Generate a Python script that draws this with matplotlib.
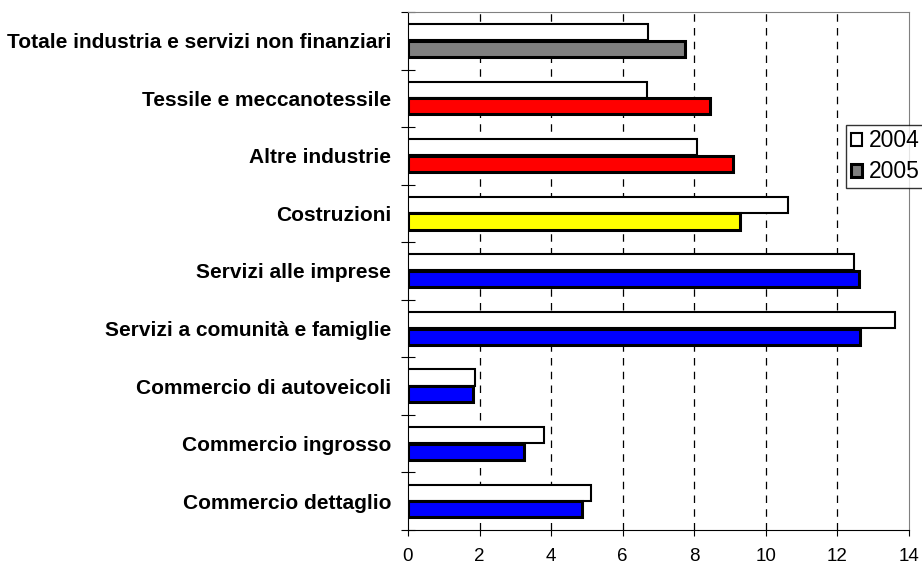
import matplotlib.pyplot as plt
import numpy as np
from matplotlib.patches import Patch

plt.rcParams['font.family'] = ['Liberation Sans', 'DejaVu Sans']

# Data (top to bottom)
categories = ['Totale industria e servizi non finanziari', 'Tessile e meccanotessile',
              'Altre industrie', 'Costruzioni', 'Servizi alle imprese',
              'Servizi a comunità e famiglie', 'Commercio di autoveicoli',
              'Commercio ingrosso', 'Commercio dettaglio']
values_2004 = [6.72, 6.69, 8.09, 10.63, 12.46, 13.62, 1.88, 3.81, 5.11]
values_2005 = [7.74, 8.44, 9.09, 9.27, 12.61, 12.63, 1.81, 3.24, 4.85]
colors_2005 = ['#808080', '#FF0000', '#FF0000', '#FFFF00', '#0000FF',
               '#0000FF', '#0000FF', '#0000FF', '#0000FF']
x_ticks = [0, 2, 4, 6, 8, 10, 12, 14]

fig = plt.figure(figsize=(9.22, 5.65), dpi=100)
ax = fig.add_axes([0.4425, 0.062, 0.5434, 0.9168])

y = np.arange(len(categories))
h = 0.28
ax.barh(y - 0.15, values_2004, height=h, color='white', edgecolor='black', linewidth=1.5, zorder=3)
ax.barh(y + 0.14, values_2005, height=h, color=colors_2005, edgecolor='black', linewidth=2.2, zorder=3)

ax.set_xlim(0, 14)
ax.set_ylim(len(categories) - 0.5, -0.5)
ax.set_xticks(x_ticks)
ax.set_xticklabels([str(t) for t in x_ticks], fontsize=13.5)

# y ticks at category boundaries, labels at centres
ax.set_yticks(np.arange(len(categories) + 1) - 0.5)
ax.set_yticklabels([])
ax.set_yticks(y, minor=True)
ax.set_yticklabels(categories, minor=True, fontsize=15, fontweight='bold')
ax.tick_params(axis='y', which='major', direction='inout', length=10, width=0.8)
ax.tick_params(axis='y', which='minor', length=0, pad=12)
ax.tick_params(axis='x', direction='out', length=4, width=0.8, pad=9)

for x in x_ticks[1:-1]:
    ax.axvline(x, color='black', linestyle=(0, (6, 5)), linewidth=0.9, zorder=1)

ax.spines['left'].set_color('black')
ax.spines['bottom'].set_color('black')
ax.spines['top'].set_color('#808080')
ax.spines['right'].set_color('#808080')

handles = [Patch(facecolor='white', edgecolor='black', linewidth=1.5, label='2004'),
           Patch(facecolor='#808080', edgecolor='black', linewidth=2.2, label='2005')]
fig.legend(handles=handles, loc='upper left', bbox_to_anchor=(0.918, 0.779),
           fontsize=16.5, frameon=True, fancybox=False, edgecolor='black',
           handlelength=0.5, handleheight=0.5, handletextpad=0.3,
           borderpad=0.2, labelspacing=0.35, borderaxespad=0)

fig.savefig('out.png', dpi=100)
